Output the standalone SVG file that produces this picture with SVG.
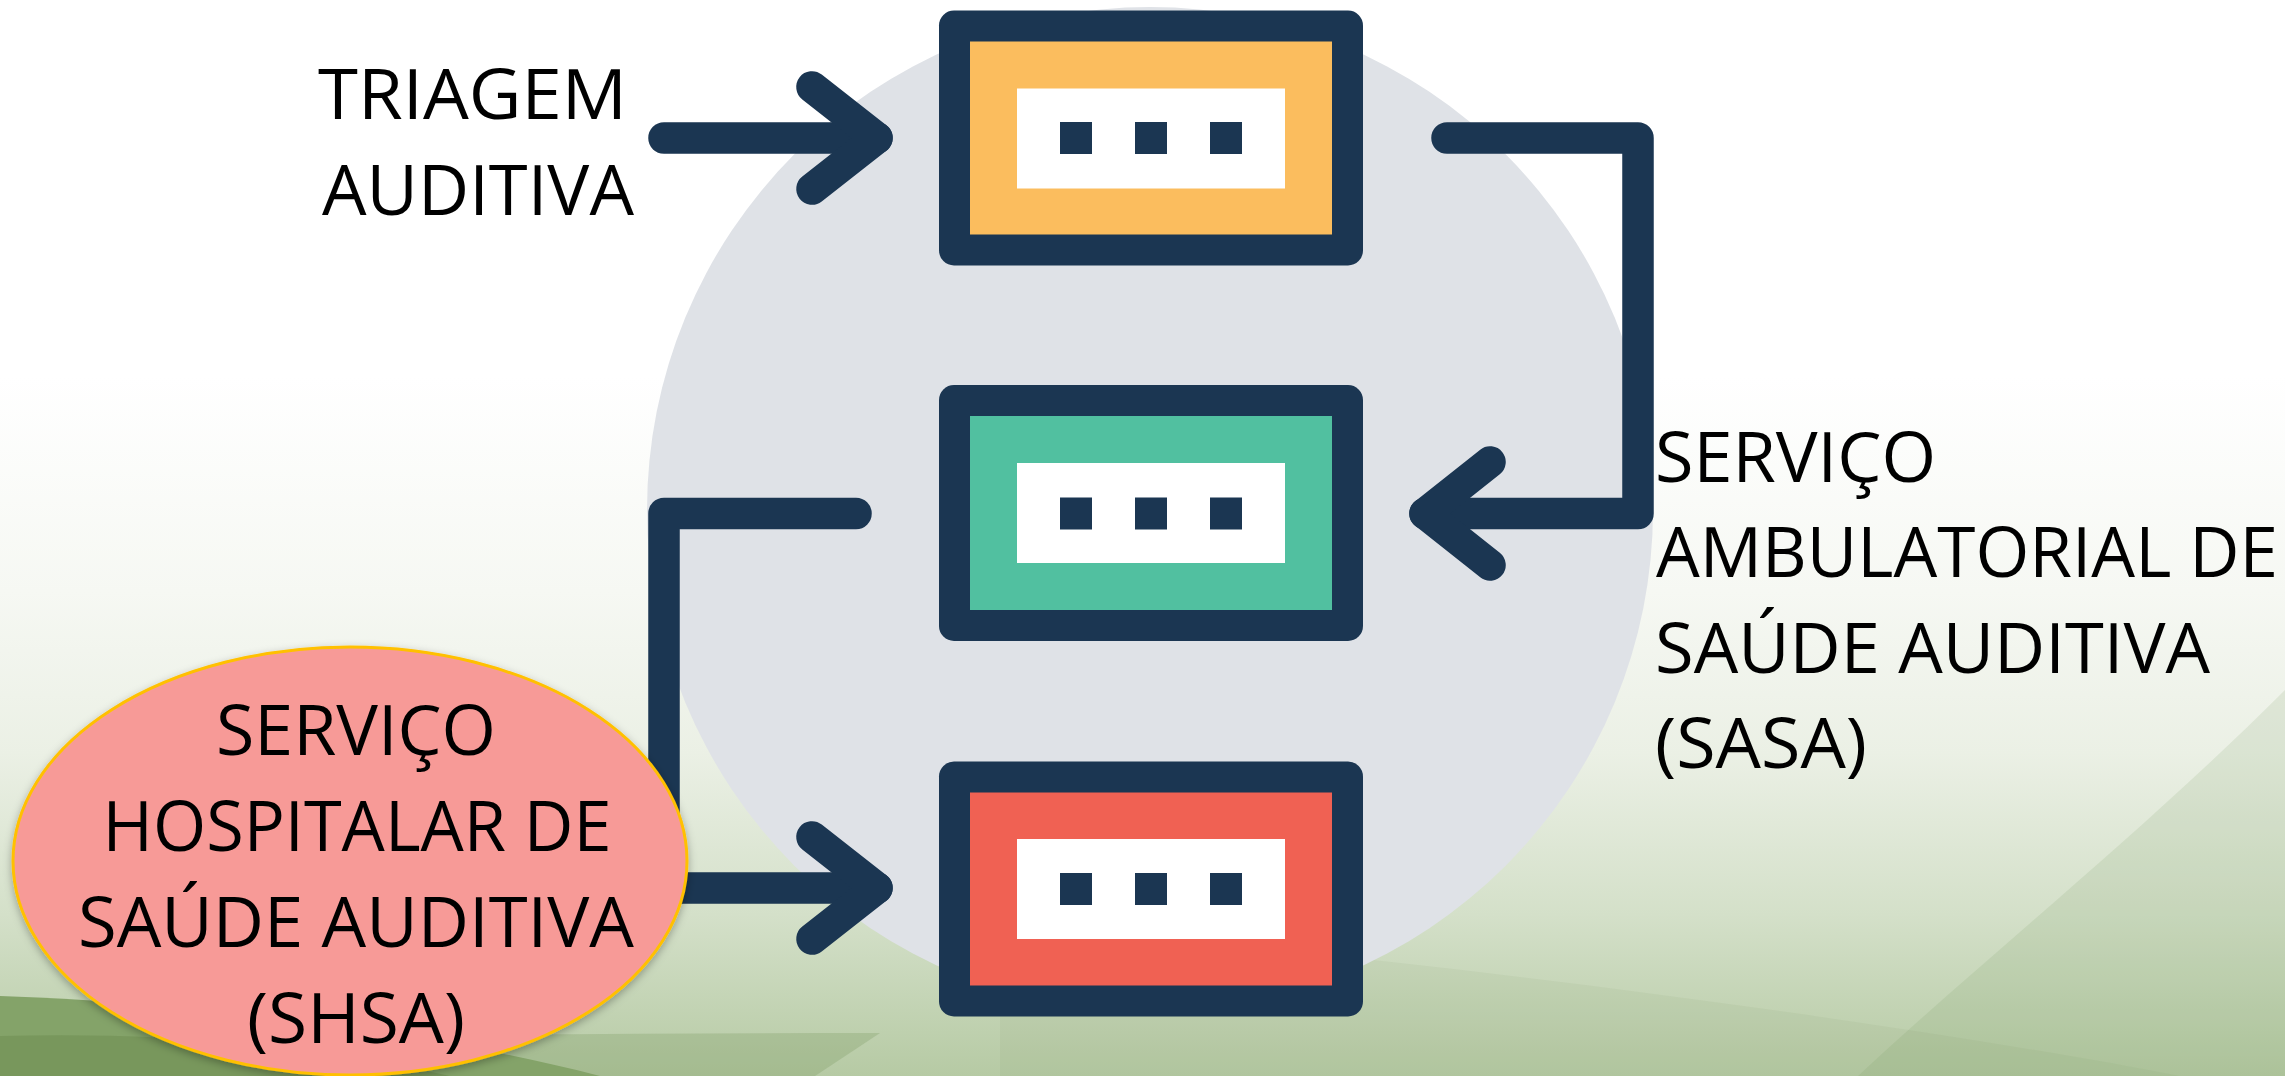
<svg xmlns="http://www.w3.org/2000/svg" width="2285" height="1076" viewBox="0 0 2285 1076">
  <defs>
    <linearGradient id="bgGrad" x1="0" y1="0" x2="0" y2="1">
      <stop offset="0" stop-color="#FFFFFF"/>
      <stop offset="0.35" stop-color="#FFFFFF"/>
      <stop offset="0.55" stop-color="#F6F8F3"/>
      <stop offset="0.7" stop-color="#EBF0E5"/>
      <stop offset="0.85" stop-color="#D4E0C9"/>
      <stop offset="1" stop-color="#B6CAA4"/>
    </linearGradient>
    <filter id="softShadow" x="-10%" y="-10%" width="120%" height="130%">
      <feDropShadow dx="0" dy="3" stdDeviation="4" flood-color="#000" flood-opacity="0.3"/>
    </filter>
  </defs>
  <style>
    .navy { fill: #1B3652; }
    .frame { fill: #1B3652; }
    .hole { fill: #FFFFFF; }
    .wire { fill: none; stroke: #1B3652; stroke-width: 31.5; stroke-linecap: round; stroke-linejoin: round; }
    .label { font-family: "Open Sans", "Noto Sans", "Liberation Sans", sans-serif; font-size: 70px; fill: #000000; }
    .mid { text-anchor: middle; }
  </style>

  <!-- slide background with green swooshes -->
  <g id="background">
    <rect x="0" y="0" width="2285" height="1076" fill="url(#bgGrad)"/>
    <path d="M1000,925 C 1400,955 1900,1022 2180,1076 L1000,1076 Z" fill="#6F9053" opacity="0.08"/>
    <path d="M2285,690 C 2140,835 1980,962 1858,1076 L2285,1076 Z" fill="#6F9053" opacity="0.13"/>
    <path d="M0,1040 C 300,1036 600,1033 880,1033 L815,1076 L0,1076 Z" fill="#6F9053" opacity="0.25"/>
    <path d="M0,996 C 200,1003 420,1030 600,1076 L0,1076 Z" fill="#84A369"/>
    <path d="M0,1036 C 150,1032 300,1042 450,1076 L0,1076 Z" fill="#6F9053" opacity="0.6"/>
  </g>

  <!-- large grey disc behind the flow -->
  <circle id="backdrop" cx="1150" cy="510" r="503" fill="#DFE2E7"/>

  <!-- connectors -->
  <g id="connectors" class="wire">
    <path d="M664,138 H877"/>
    <path d="M812,87 L877,138 L812,189"/>
    <path d="M1447,138 H1638 V513.5 H1425"/>
    <path d="M1490,462 L1425,513.5 L1490,565"/>
    <path d="M856,513.5 H664 V888 H877"/>
    <path d="M812,837 L877,888 L812,939"/>
  </g>

  <!-- step boxes -->
  <g id="node-top">
    <rect class="frame" x="939" y="10.5" width="424" height="255" rx="15"/>
    <rect x="970" y="41.5" width="362" height="193" fill="#FBBD5E"/>
    <rect class="hole" x="1017" y="88.5" width="268" height="100"/>
    <rect class="navy" x="1060" y="122" width="32" height="32"/>
    <rect class="navy" x="1135" y="122" width="32" height="32"/>
    <rect class="navy" x="1210" y="122" width="32" height="32"/>
  </g>
  <g id="node-middle">
    <rect class="frame" x="939" y="385" width="424" height="256" rx="15"/>
    <rect x="970" y="416" width="362" height="194" fill="#51C0A0"/>
    <rect class="hole" x="1017" y="463" width="268" height="100"/>
    <rect class="navy" x="1060" y="497.5" width="32" height="32"/>
    <rect class="navy" x="1135" y="497.5" width="32" height="32"/>
    <rect class="navy" x="1210" y="497.5" width="32" height="32"/>
  </g>
  <g id="node-bottom">
    <rect class="frame" x="939" y="761.5" width="424" height="255" rx="15"/>
    <rect x="970" y="792.5" width="362" height="193" fill="#F06153"/>
    <rect class="hole" x="1017" y="839" width="268" height="100"/>
    <rect class="navy" x="1060" y="873" width="32" height="32"/>
    <rect class="navy" x="1135" y="873" width="32" height="32"/>
    <rect class="navy" x="1210" y="873" width="32" height="32"/>
  </g>

  <!-- free labels -->
  <g id="label-triagem" class="label">
    <text x="318" y="119" textLength="309" lengthAdjust="spacingAndGlyphs">TRIAGEM</text>
    <text x="322" y="215" textLength="312" lengthAdjust="spacingAndGlyphs">AUDITIVA</text>
  </g>
  <g id="label-sasa" class="label">
    <text x="1655" y="482" textLength="281" lengthAdjust="spacingAndGlyphs">SERVIÇO</text>
    <text x="1656" y="577" textLength="622" lengthAdjust="spacingAndGlyphs">AMBULATORIAL DE</text>
    <text x="1655" y="673" textLength="555" lengthAdjust="spacingAndGlyphs">SAÚDE AUDITIVA</text>
    <text x="1655" y="768" textLength="212" lengthAdjust="spacingAndGlyphs">(SASA)</text>
  </g>

  <!-- hospital service bubble -->
  <g id="node-shsa">
    <ellipse cx="350" cy="861" rx="337" ry="214" fill="#F79A97" stroke="#FFC000" stroke-width="3" filter="url(#softShadow)"/>
    <g class="label mid">
      <text x="356" y="755" textLength="280" lengthAdjust="spacingAndGlyphs">SERVIÇO</text>
      <text x="357" y="851" textLength="509" lengthAdjust="spacingAndGlyphs">HOSPITALAR DE</text>
      <text x="356" y="947" textLength="556" lengthAdjust="spacingAndGlyphs">SAÚDE AUDITIVA</text>
      <text x="356" y="1043" textLength="218" lengthAdjust="spacingAndGlyphs">(SHSA)</text>
    </g>
  </g>
</svg>
